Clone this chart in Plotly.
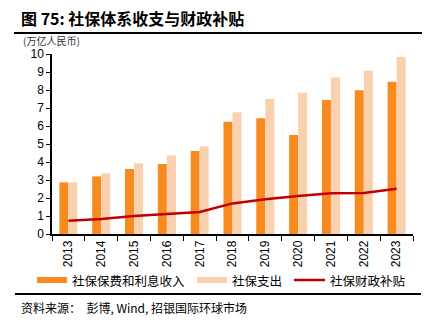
import plotly.graph_objects as go

years = ["2013", "2014", "2015", "2016", "2017", "2018", "2019", "2020", "2021", "2022", "2023"]
income = [2.87, 3.20, 3.61, 3.89, 4.61, 6.24, 6.43, 5.50, 7.44, 7.98, 8.46]
expense = [2.87, 3.37, 3.93, 4.37, 4.87, 6.76, 7.50, 7.85, 8.69, 9.07, 9.83]
subsidy = [0.74, 0.83, 1.00, 1.10, 1.22, 1.70, 1.93, 2.11, 2.26, 2.28, 2.52]

names = ["社保保费和利息收入", "社保支出", "社保财政补贴"]
c_income = "#F78B1F"
c_expense = "#FAD1AF"
c_line = "#C00000"

W, H = 430, 328
L, R, T, B = 52, 413, 54, 234  # plot area in pixels


def px(x):
    return (x - L) / (R - L)


def py(y):
    return (B - y) / (B - T)


cjk = "Noto Sans CJK SC"
latin = "Liberation Sans, Arial"

fig = go.Figure()
fig.add_bar(x=years, y=income, name=names[0], marker_color=c_income, marker_line_width=0)
fig.add_bar(x=years, y=expense, name=names[1], marker_color=c_expense, marker_line_width=0)
fig.add_scatter(x=years, y=subsidy, name=names[2], mode="lines",
                line=dict(color=c_line, width=2.5))

shapes = []
annotations = []

# heading rules
shapes.append(dict(type="line", xref="paper", yref="paper", x0=px(14), x1=px(422),
                   y0=py(33), y1=py(33), line=dict(color="black", width=2)))
shapes.append(dict(type="line", xref="paper", yref="paper", x0=px(15), x1=px(421),
                   y0=py(294), y1=py(294), line=dict(color="black", width=2)))

# title
annotations.append(dict(xref="paper", yref="paper", x=px(19), y=py(18), xanchor="left", yanchor="middle",
                        text="<b>图 75: 社保体系收支与财政补贴</b>", showarrow=False,
                        font=dict(family=cjk, size=16, color="black")))
# unit
annotations.append(dict(xref="paper", yref="paper", x=px(21), y=py(40.5), xanchor="left", yanchor="middle",
                        text="(万亿人民币)", showarrow=False,
                        font=dict(family=cjk, size=10, color="#333333")))
# source
annotations.append(dict(xref="paper", yref="paper", x=px(19), y=py(307), xanchor="left", yanchor="middle",
                        text="资料来源：  彭博, Wind, 招银国际环球市场", showarrow=False,
                        font=dict(family=cjk, size=12, color="black")))

# legend
ly = py(280)
leg = [(37, 67, 70, names[0], "bar", c_income),
       (197, 227, 230, names[1], "bar", c_expense),
       (294, 325, 328, names[2], "line", c_line)]
for x0, x1, tx, label, kind, col in leg:
    if kind == "bar":
        shapes.append(dict(type="rect", xref="paper", yref="paper", x0=px(x0), x1=px(x1),
                           y0=py(283), y1=py(277), fillcolor=col, line=dict(width=0)))
    else:
        shapes.append(dict(type="line", xref="paper", yref="paper", x0=px(x0), x1=px(x1),
                           y0=ly, y1=ly, line=dict(color=col, width=2.5)))
    annotations.append(dict(xref="paper", yref="paper", x=px(tx), y=ly, xanchor="left", yanchor="middle",
                            text=label, showarrow=False,
                            font=dict(family=cjk, size=12.5, color="black")))

fig.update_layout(
    width=W, height=H,
    margin=dict(l=L, r=W - R, t=T, b=H - B),
    paper_bgcolor="white", plot_bgcolor="white",
    barmode="group", bargap=0.45, bargroupgap=0,
    showlegend=False,
    shapes=shapes, annotations=annotations,
    font=dict(family=latin, color="black"),
)
fig.update_xaxes(
    type="category", tickangle=-90, tickfont=dict(family=latin, size=12),
    showline=True, linecolor="black", linewidth=1.5,
    ticks="outside", tickson="boundaries", ticklen=5, tickcolor="black",
    showgrid=False,
)
fig.update_yaxes(
    range=[0, 10], dtick=1, tickfont=dict(family=latin, size=12),
    showline=True, linecolor="black", linewidth=1.5,
    ticks="outside", ticklen=4, tickcolor="black",
    showgrid=False, zeroline=False,
)

fig.write_html("out.html")
